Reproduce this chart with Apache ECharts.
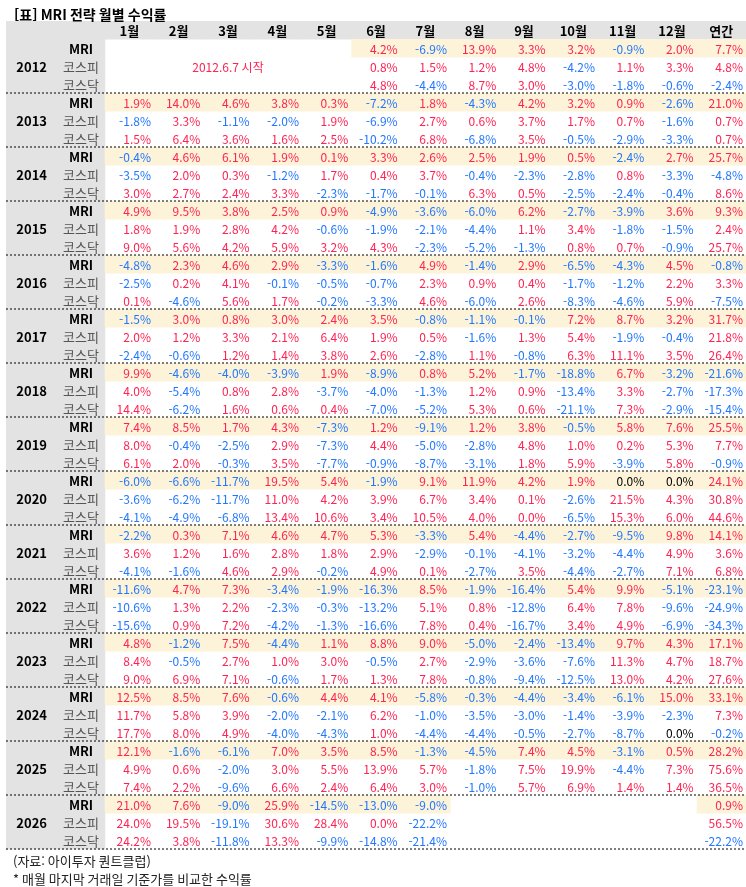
<!DOCTYPE html>
<html lang="ko">
<head>
    <meta charset="UTF-8">
    <title>MRI 전략 월별 수익률</title>
    <script src="https://cdn.jsdelivr.net/npm/echarts@6/dist/echarts.min.js"></script>
    <style>
        html, body { margin: 0; padding: 0; background: #fff; }
    </style>
</head>
<body>
    <div id="main" style="width: 746px;height: 887px"></div>
    <script type="application/javascript">
        // 표 데이터 (단위: %, null = 빈칸)
        var months = ['1월', '2월', '3월', '4월', '5월', '6월', '7월', '8월', '9월', '10월', '11월', '12월', '연간'];
        var years = [2012, 2013, 2014, 2015, 2016, 2017, 2018, 2019, 2020, 2021, 2022, 2023, 2024, 2025, 2026];
        var rowNames = ['MRI', '코스피', '코스닥'];
        var startNote = '2012.6.7 시작';

        // 빨간 0.0%는 아주 작은 양수(0.04)로, 검정 0.0%는 0으로 적음
        var mri = [
            [null, null, null, null, null, 4.2, -6.9, 13.9, 3.3, 3.2, -0.9, 2.0, 7.7],
            [1.9, 14.0, 4.6, 3.8, 0.3, -7.2, 1.8, -4.3, 4.2, 3.2, 0.9, -2.6, 21.0],
            [-0.4, 4.6, 6.1, 1.9, 0.1, 3.3, 2.6, 2.5, 1.9, 0.5, -2.4, 2.7, 25.7],
            [4.9, 9.5, 3.8, 2.5, 0.9, -4.9, -3.6, -6.0, 6.2, -2.7, -3.9, 3.6, 9.3],
            [-4.8, 2.3, 4.6, 2.9, -3.3, -1.6, 4.9, -1.4, 2.9, -6.5, -4.3, 4.5, -0.8],
            [-1.5, 3.0, 0.8, 3.0, 2.4, 3.5, -0.8, -1.1, -0.1, 7.2, 8.7, 3.2, 31.7],
            [9.9, -4.6, -4.0, -3.9, 1.9, -8.9, 0.8, 5.2, -1.7, -18.8, 6.7, -3.2, -21.6],
            [7.4, 8.5, 1.7, 4.3, -7.3, 1.2, -9.1, 1.2, 3.8, -0.5, 5.8, 7.6, 25.5],
            [-6.0, -6.6, -11.7, 19.5, 5.4, -1.9, 9.1, 11.9, 4.2, 1.9, 0.0, 0.0, 24.1],
            [-2.2, 0.3, 7.1, 4.6, 4.7, 5.3, -3.3, 5.4, -4.4, -2.7, -9.5, 9.8, 14.1],
            [-11.6, 4.7, 7.3, -3.4, -1.9, -16.3, 8.5, -1.9, -16.4, 5.4, 9.9, -5.1, -23.1],
            [4.8, -1.2, 7.5, -4.4, 1.1, 8.8, 9.0, -5.0, -2.4, -13.4, 9.7, 4.3, 17.1],
            [12.5, 8.5, 7.6, -0.6, 4.4, 4.1, -5.8, -0.3, -4.4, -3.4, -6.1, 15.0, 33.1],
            [12.1, -1.6, -6.1, 7.0, 3.5, 8.5, -1.3, -4.5, 7.4, 4.5, -3.1, 0.5, 28.2],
            [21.0, 7.6, -9.0, 25.9, -14.5, -13.0, -9.0, null, null, null, null, null, 0.9]
        ];
        var kospi = [
            [null, null, null, null, null, 0.8, 1.5, 1.2, 4.8, -4.2, 1.1, 3.3, 4.8],
            [-1.8, 3.3, -1.1, -2.0, 1.9, -6.9, 2.7, 0.6, 3.7, 1.7, 0.7, -1.6, 0.7],
            [-3.5, 2.0, 0.3, -1.2, 1.7, 0.4, 3.7, -0.4, -2.3, -2.8, 0.8, -3.3, -4.8],
            [1.8, 1.9, 2.8, 4.2, -0.6, -1.9, -2.1, -4.4, 1.1, 3.4, -1.8, -1.5, 2.4],
            [-2.5, 0.2, 4.1, -0.1, -0.5, -0.7, 2.3, 0.9, 0.4, -1.7, -1.2, 2.2, 3.3],
            [2.0, 1.2, 3.3, 2.1, 6.4, 1.9, 0.5, -1.6, 1.3, 5.4, -1.9, -0.4, 21.8],
            [4.0, -5.4, 0.8, 2.8, -3.7, -4.0, -1.3, 1.2, 0.9, -13.4, 3.3, -2.7, -17.3],
            [8.0, -0.4, -2.5, 2.9, -7.3, 4.4, -5.0, -2.8, 4.8, 1.0, 0.2, 5.3, 7.7],
            [-3.6, -6.2, -11.7, 11.0, 4.2, 3.9, 6.7, 3.4, 0.1, -2.6, 21.5, 4.3, 30.8],
            [3.6, 1.2, 1.6, 2.8, 1.8, 2.9, -2.9, -0.1, -4.1, -3.2, -4.4, 4.9, 3.6],
            [-10.6, 1.3, 2.2, -2.3, -0.3, -13.2, 5.1, 0.8, -12.8, 6.4, 7.8, -9.6, -24.9],
            [8.4, -0.5, 2.7, 1.0, 3.0, -0.5, 2.7, -2.9, -3.6, -7.6, 11.3, 4.7, 18.7],
            [11.7, 5.8, 3.9, -2.0, -2.1, 6.2, -1.0, -3.5, -3.0, -1.4, -3.9, -2.3, 7.3],
            [4.9, 0.6, -2.0, 3.0, 5.5, 13.9, 5.7, -1.8, 7.5, 19.9, -4.4, 7.3, 75.6],
            [24.0, 19.5, -19.1, 30.6, 28.4, 0.04, -22.2, null, null, null, null, null, 56.5]
        ];
        var kosdaq = [
            [null, null, null, null, null, 4.8, -4.4, 8.7, 3.0, -3.0, -1.8, -0.6, -2.4],
            [1.5, 6.4, 3.6, 1.6, 2.5, -10.2, 6.8, -6.8, 3.5, -0.5, -2.9, -3.3, 0.7],
            [3.0, 2.7, 2.4, 3.3, -2.3, -1.7, -0.1, 6.3, 0.5, -2.5, -2.4, -0.4, 8.6],
            [9.0, 5.6, 4.2, 5.9, 3.2, 4.3, -2.3, -5.2, -1.3, 0.8, 0.7, -0.9, 25.7],
            [0.1, -4.6, 5.6, 1.7, -0.2, -3.3, 4.6, -6.0, 2.6, -8.3, -4.6, 5.9, -7.5],
            [-2.4, -0.6, 1.2, 1.4, 3.8, 2.6, -2.8, 1.1, -0.8, 6.3, 11.1, 3.5, 26.4],
            [14.4, -6.2, 1.6, 0.6, 0.4, -7.0, -5.2, 5.3, 0.6, -21.1, 7.3, -2.9, -15.4],
            [6.1, 2.0, -0.3, 3.5, -7.7, -0.9, -8.7, -3.1, 1.8, 5.9, -3.9, 5.8, -0.9],
            [-4.1, -4.9, -6.8, 13.4, 10.6, 3.4, 10.5, 4.0, 0.04, -6.5, 15.3, 6.0, 44.6],
            [-4.1, -1.6, 4.6, 2.9, -0.2, 4.9, 0.1, -2.7, 3.5, -4.4, -2.7, 7.1, 6.8],
            [-15.6, 0.9, 7.2, -4.2, -1.3, -16.6, 7.8, 0.4, -16.7, 3.4, 4.9, -6.9, -34.3],
            [9.0, 6.9, 7.1, -0.6, 1.7, 1.3, 7.8, -0.8, -9.4, -12.5, 13.0, 4.2, 27.6],
            [17.7, 8.0, 4.9, -4.0, -4.3, 1.0, -4.4, -4.4, -0.5, -2.7, -8.7, 0.0, -0.2],
            [7.4, 2.2, -9.6, 6.6, 2.4, 6.4, 3.0, -1.0, 5.7, 6.9, 1.4, 1.4, 36.5],
            [24.2, 3.8, -11.8, 13.3, -9.9, -14.8, -21.4, null, null, null, null, null, -22.2]
        ];

        var FONT = '"Noto Sans CJK KR", "Noto Sans", sans-serif';
        var RED = '#ff2352';
        var BLUE = '#2277ff';
        var GRAY_BG = '#e3e3e3';
        var YELLOW_BG = '#fdf3d9';

        // 행 목록: 머리행 + 연도별 3행
        var rows = [{kind: 'header'}];
        var series3 = [mri, kospi, kosdaq];
        for (var i = 0; i < years.length; i++) {
            for (var k = 0; k < 3; k++) {
                rows.push({kind: k, year: years[i], values: series3[k][i]});
            }
        }

        // 열: 0 = 연도, 1 = 구분, 2.. = 월/연간
        var colCats = ['', ''].concat(months);
        var rowCats = rows.map(function (r, i) { return String(i); });

        var cells = [];
        for (var r = 0; r < rows.length; r++) {
            for (var c = 0; c < colCats.length; c++) {
                cells.push([c, r]);
            }
        }

        function valueColor(v) {
            if (v > 0) return RED;
            if (v < 0) return BLUE;
            return '#000';
        }

        function renderItem(params, api) {
            var c = api.value(0);
            var r = api.value(1);
            var row = rows[r];
            var p = api.coord([c, r]);
            var s = api.size([1, 1]);
            var x0 = p[0] - s[0] / 2;
            var y0 = p[1] - s[1] / 2;
            var cy = p[1];
            var children = [];

            var bg = null;
            var v = null;
            if (c >= 2 && row.kind !== 'header') v = row.values[c - 2];
            if (row.kind === 'header' || c < 2) bg = GRAY_BG;
            else if (row.kind === 0 && v !== null) bg = YELLOW_BG;

            if (bg) {
                children.push({
                    type: 'rect',
                    shape: {x: x0, y: y0, width: s[0] + 0.6, height: s[1] + 0.6},
                    style: {fill: bg}
                });
            }

            if (row.kind === 'header') {
                if (c >= 2) {
                    children.push({
                        type: 'text',
                        style: {
                            text: colCats[c], x: p[0], y: cy + 1,
                            align: 'center', verticalAlign: 'middle',
                            fill: '#000', font: 'bold 13px ' + FONT
                        }
                    });
                }
            } else if (c === 0) {
                if (row.kind === 1) {
                    children.push({
                        type: 'text',
                        style: {
                            text: String(row.year), x: p[0] + 1, y: cy + 1,
                            align: 'center', verticalAlign: 'middle',
                            fill: '#000', font: 'bold 13px ' + FONT
                        }
                    });
                }
            } else if (c === 1) {
                children.push({
                    type: 'text',
                    style: {
                        text: rowNames[row.kind], x: p[0] + 1, y: cy + 1,
                        align: 'center', verticalAlign: 'middle',
                        fill: row.kind === 0 ? '#000' : '#555',
                        font: (row.kind === 0 ? 'bold 13px ' : '13px ') + FONT
                    }
                });
            } else if (v !== null) {
                children.push({
                    type: 'text',
                    style: {
                        text: v.toFixed(1) + '%', x: x0 + s[0] - 3, y: cy + 1,
                        align: 'right', verticalAlign: 'middle',
                        fill: valueColor(v), font: '12px ' + FONT
                    }
                });
            } else if (row.year === years[0] && row.kind === 1 && c === 4) {
                // 3월 칸 중앙 = 1~5월 빈 영역 중앙
                children.push({
                    type: 'text',
                    style: {
                        text: startNote, x: p[0], y: cy + 1,
                        align: 'center', verticalAlign: 'middle',
                        fill: RED, font: '12px ' + FONT
                    }
                });
            }

            // 연도 구분 점선
            if (row.kind === 2 && c === 0) {
                var cs = params.coordSys;
                children.push({
                    type: 'line',
                    z2: 100,
                    shape: {x1: cs.x, y1: y0 + s[1], x2: cs.x + cs.width, y2: y0 + s[1]},
                    style: {stroke: '#000', lineWidth: 1, lineDash: [2, 2]}
                });
            }

            return {type: 'group', children: children};
        }

        var myChart = echarts.init(document.getElementById('main'));
        var option = {
            backgroundColor: '#fff',
            animation: false,
            title: [
                {
                    text: '[표] MRI 전략 월별 수익률',
                    left: 9, top: 3,
                    textStyle: {fontFamily: FONT, fontSize: 14, fontWeight: 'bold', color: '#000'}
                },
                {
                    text: '(자료: 아이투자 퀀트클럽)',
                    left: 8, top: 850,
                    textStyle: {fontFamily: FONT, fontSize: 13, fontWeight: 'normal', color: '#222'}
                },
                {
                    text: '* 매월 마지막 거래일 기준가를 비교한 수익률',
                    left: 8, top: 868,
                    textStyle: {fontFamily: FONT, fontSize: 13, fontWeight: 'normal', color: '#222'}
                }
            ],
            grid: {left: 6, right: 0, top: 21, height: 828},
            xAxis: {
                type: 'category',
                data: colCats,
                show: false
            },
            yAxis: {
                type: 'category',
                data: rowCats,
                inverse: true,
                show: false
            },
            series: [
                {
                    type: 'custom',
                    renderItem: renderItem,
                    data: cells,
                    silent: true
                }
            ]
        };
        myChart.setOption(option, true);
    </script>
</body>
</html>
